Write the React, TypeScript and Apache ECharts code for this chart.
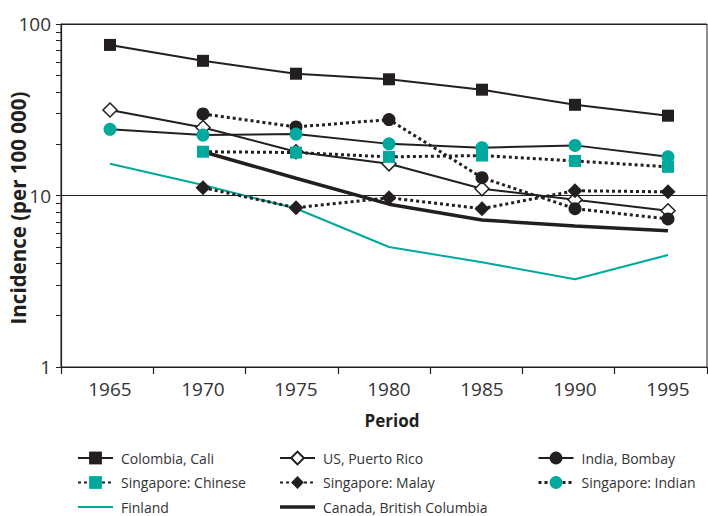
import React, { useEffect, useRef } from "react";
import * as echarts from "echarts";

const years = [1965, 1970, 1975, 1980, 1985, 1990, 1995];
const periodLabels = ["1965", "1970", "1975", "1980", "1985", "1990", "1995"];
const yTicks = [1, 10, 100];
const yMinorTicks = [1, 2, 3, 4, 5, 6, 7, 8, 9, 10, 20, 30, 40, 50, 60, 70, 80, 90, 100];

const colombiaYears = [1965, 1970, 1975, 1980, 1985, 1990, 1995];
const colombiaVals = [75.5, 61, 51.3, 47.6, 41.4, 33.8, 29.2];
const usPrYears = [1965, 1970, 1975, 1980, 1985, 1990, 1995];
const usPrVals = [31.5, 24.9, 18.0, 15.3, 10.95, 9.45, 8.15];
const indiaYears = [1970, 1975, 1980, 1985, 1990, 1995];
const indiaVals = [29.9, 25.1, 27.7, 12.7, 8.38, 7.3];
const sgChineseYears = [1970, 1975, 1980, 1985, 1990, 1995];
const sgChineseVals = [18.0, 17.8, 16.8, 17.1, 15.9, 14.7];
const sgMalayYears = [1970, 1975, 1980, 1985, 1990, 1995];
const sgMalayVals = [11.1, 8.49, 9.7, 8.38, 10.66, 10.5];
const sgIndianYears = [1965, 1970, 1975, 1980, 1985, 1990, 1995];
const sgIndianVals = [24.3, 22.5, 22.8, 20.0, 19.0, 19.6, 16.8];
const finlandYears = [1965, 1970, 1975, 1980, 1985, 1990, 1995];
const finlandVals = [15.3, 11.5, 8.4, 5.01, 4.08, 3.25, 4.5];
const canadaYears = [1970, 1975, 1980, 1985, 1990, 1995];
const canadaVals = [18.0, 12.6, 8.9, 7.2, 6.64, 6.23];

const legendCol1 = ["Colombia, Cali", "Singapore: Chinese", "Finland"];
const legendCol2 = ["US, Puerto Rico", "Singapore: Malay", "Canada, British Columbia"];
const legendCol3 = ["India, Bombay", "Singapore: Indian"];

const BLACK = "#231f20";
const TEAL = "#00a99d";
const FONT = "'Open Sans', 'Noto Sans', sans-serif";

const pairs = (xs: number[], vs: number[]) => xs.map((x, i) => [x, vs[i]]);

export default function App() {
  const ref = useRef<HTMLDivElement>(null);
  useEffect(() => {
    if (!ref.current) return;
    const chart = echarts.init(ref.current, null, { renderer: "svg" });
    const dotted = [3, 3];
    const base = {
      type: "line",
      xAxisIndex: 1,
      yAxisIndex: 0,
      z: 3,
    };
    const legendCommon = {
      orient: "vertical",
      top: 450,
      height: 66,
      padding: 0,
      itemWidth: 35,
      itemHeight: 16,
      itemGap: 8.5,
      selectedMode: false,
      symbolKeepAspect: true,
      textStyle: {
        fontFamily: FONT,
        fontSize: 14,
        lineHeight: 16,
        color: "#333333",
        padding: [0, 0, 0, 3],
      },
    };
    chart.setOption({
      animation: false,
      backgroundColor: "#ffffff",
      grid: {
        left: 61,
        right: 1,
        top: 24,
        bottom: 149,
        show: true,
        borderColor: BLACK,
        borderWidth: 1,
        outerBoundsMode: "none",
        containLabel: false,
      },
      legend: [
        {
          ...legendCommon,
          left: 77,
          data: [
            legendCol1[0],
            legendCol1[1],
            { name: legendCol1[2], icon: "path://M0 0H35V2H0Z" },
          ],
        },
        {
          ...legendCommon,
          left: 279,
          data: [
            legendCol2[0],
            legendCol2[1],
            { name: legendCol2[2], icon: "path://M0 0H35V3.5H0Z" },
          ],
        },
        {
          ...legendCommon,
          left: 537,
          data: [
            { name: legendCol3[0], lineStyle: { type: "solid", width: 2 } },
            { name: legendCol3[1], lineStyle: { type: dotted, width: 3 } },
          ],
        },
      ],
      xAxis: [
        {
          type: "category",
          position: "bottom",
          data: periodLabels,
          boundaryGap: true,
          axisLine: { show: true, lineStyle: { color: BLACK, width: 1.2 } },
          axisTick: { show: true, length: 7, lineStyle: { color: BLACK, width: 1.2 } },
          axisLabel: { show: false },
          splitLine: { show: false },
          name: "Period",
          nameLocation: "middle",
          nameGap: 45,
          nameMoveOverlap: false,
          nameTextStyle: {
            fontFamily: FONT,
            fontWeight: "bold",
            fontSize: 17,
            color: BLACK,
            padding: [0, 0, 0, 16],
          },
        },
        {
          type: "value",
          position: "bottom",
          min: 1962.366,
          max: 1997.097,
          axisLine: { show: false },
          axisTick: { show: false },
          splitLine: { show: false },
          axisLabel: {
            customValues: years,
            formatter: (v: number) => String(v),
            fontFamily: FONT,
            fontSize: 19,
            color: "#333333",
            margin: 12,
          },
        },
      ],
      yAxis: [
        {
          type: "log",
          logBase: 10,
          min: 1,
          max: 100,
          position: "left",
          axisLine: { show: true, lineStyle: { color: BLACK, width: 1.2 } },
          axisTick: {
            show: true,
            length: 5,
            customValues: yMinorTicks,
            lineStyle: { color: BLACK, width: 1 },
          },
          axisLabel: {
            customValues: yTicks,
            formatter: (v: number) => String(Math.round(v)),
            fontFamily: FONT,
            fontSize: 19,
            color: "#333333",
            margin: 10,
          },
          splitLine: { show: false },
          name: "Incidence (per 100 000)",
          nameLocation: "middle",
          nameGap: 33,
          nameRotate: 90,
          nameMoveOverlap: false,
          nameTextStyle: {
            fontFamily: FONT,
            fontWeight: "bold",
            fontSize: 20.5,
            color: BLACK,
            padding: [0, 25, 0, 0],
          },
        },
        {
          type: "log",
          logBase: 10,
          min: 1,
          max: 100,
          position: "left",
          axisLine: { show: false },
          axisTick: { show: false },
          axisLabel: { show: false },
          splitLine: { show: true, lineStyle: { color: BLACK, width: 1 } },
        },
      ],
      series: [
        {
          ...base,
          name: "Finland",
          data: pairs(finlandYears, finlandVals),
          symbol: "none",
          lineStyle: { color: TEAL, width: 2 },
          itemStyle: { color: TEAL },
        },
        {
          ...base,
          name: "Canada, British Columbia",
          data: pairs(canadaYears, canadaVals),
          symbol: "none",
          lineStyle: { color: BLACK, width: 3.5 },
          itemStyle: { color: BLACK },
        },
        {
          ...base,
          name: "Colombia, Cali",
          data: pairs(colombiaYears, colombiaVals),
          symbol: "rect",
          symbolSize: 12,
          lineStyle: { color: BLACK, width: 2 },
          itemStyle: { color: BLACK },
        },
        {
          ...base,
          name: "US, Puerto Rico",
          data: pairs(usPrYears, usPrVals),
          symbol: "diamond",
          symbolSize: 14,
          lineStyle: { color: BLACK, width: 2 },
          itemStyle: { color: "#ffffff", borderColor: BLACK, borderWidth: 1.5 },
        },
        {
          ...base,
          name: "India, Bombay",
          data: pairs(indiaYears, indiaVals),
          symbol: "circle",
          symbolSize: 13,
          lineStyle: { color: BLACK, width: 3, type: dotted },
          itemStyle: { color: BLACK },
        },
        {
          ...base,
          name: "Singapore: Malay",
          data: pairs(sgMalayYears, sgMalayVals),
          symbol: "diamond",
          symbolSize: 15,
          lineStyle: { color: BLACK, width: 3, type: dotted },
          itemStyle: { color: BLACK },
        },
        {
          ...base,
          name: "Singapore: Chinese",
          data: pairs(sgChineseYears, sgChineseVals),
          symbol: "rect",
          symbolSize: 12,
          lineStyle: { color: BLACK, width: 3, type: dotted },
          itemStyle: { color: TEAL },
        },
        {
          ...base,
          name: "Singapore: Indian",
          data: pairs(sgIndianYears, sgIndianVals),
          symbol: "circle",
          symbolSize: 13,
          lineStyle: { color: BLACK, width: 2 },
          itemStyle: { color: TEAL },
        },
      ],
    });
    return () => chart.dispose();
  }, []);
  return (
    <div
      ref={ref}
      style={{ position: "fixed", left: 0, top: 0, width: 708, height: 516 }}
    />
  );
}
